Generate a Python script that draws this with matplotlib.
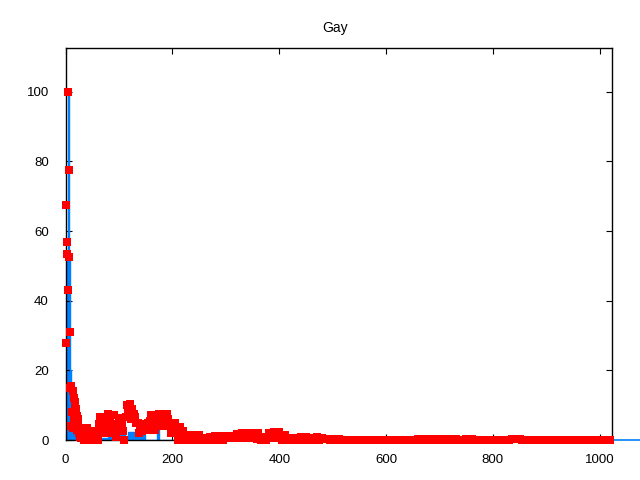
import matplotlib
matplotlib.use("Agg")
import matplotlib.pyplot as plt

plt.rcParams["font.family"] = ["Liberation Sans", "DejaVu Sans"]

title = "Gay"

# red points: first part at every unit, then every 5 units
red_x_head = list(range(0, 30))
red_y_head = [28, 67.5, 57, 53.5, 43, 100, 77.5, 52.5, 31, 15,
              4, 15.5, 8, 14, 3.5, 12, 6, 10, 11, 5,
              9, 7, 3, 6, 4, 2, 3, 1, 3.5, 0.5]

red_x_tail = list(range(30, 1025, 5))
red_y_tail = [
    3.0, 0.0, 3.4, 1.0, 0.0, 2.5, 0.0, 6.7, 2.0, 6.5,
    7.5, 2.0, 7.3, 1.0, 6.3, 5.0, 0.0, 10.0, 10.3, 8.9,
    6.5, 4.9, 3.4, 4.0, 4.6, 5.0, 7.1, 6.0, 5.4, 7.5,
    7.5, 6.0, 7.5, 4.9, 3.0, 4.9, 0.0, 3.6, 2.5, 0.0,
    1.4, 0.0, 1.3, 0.0, 1.4, 0.0, 0.6, 0.0, 0.8, 0.0,
    1.1, 0.0, 1.1, 0.0, 1.2, 0.5, 1.2, 0.5, 1.7, 0.5,
    2.0, 0.5, 2.0, 0.5, 2.0, 0.5, 2.0, 0.0, 0.8, 0.0,
    2.0, 0.5, 2.3, 0.5, 2.3, 0.0, 1.5, 0.0, 0.6, 0.0,
    0.6, 0.0, 0.9, 0.0, 0.9, 0.0, 0.6, 0.0, 0.9, 0.0,
    0.7, 0.2, 0.3, 0.0, 0.4, 0.0, 0.4, 0.0, 0.0, 0.0,
    0.0, 0.0, 0.1, 0.0, 0.0, 0.1, 0.0, 0.1, 0.0, 0.1,
    0.0, 0.1, 0.0, 0.0, 0.0, 0.0, 0.0, 0.0, 0.0, 0.0,
    0.0, 0.0, 0.0, 0.0, 0.0, 0.0, 0.3, 0.0, 0.3, 0.0,
    0.3, 0.0, 0.3, 0.0, 0.3, 0.0, 0.3, 0.0, 0.2, 0.0,
    0.3, 0.0, 0.0, 0.0, 0.3, 0.0, 0.3, 0.0, 0.0, 0.0,
    0.0, 0.0, 0.0, 0.0, 0.0, 0.0, 0.0, 0.0, 0.0, 0.0,
    0.0, 0.3, 0.3, 0.3, 0.3, 0.0, 0.0, 0.0, 0.0, 0.0,
    0.0, 0.0, 0.0, 0.0, 0.0, 0.0, 0.0, 0.0, 0.0, 0.0,
    0.0, 0.0, 0.0, 0.0, 0.0, 0.0, 0.0, 0.0, 0.0, 0.0,
    0.0, 0.0, 0.0, 0.0, 0.0, 0.0, 0.0, 0.0, 0.0,
]

# in-between points (x = 32.5, 37.5, ... 517.5)
red_x_mid = [32.5 + 5 * i for i in range(98)]
red_y_mid = [
    1.5, 2.0, 1.5, 2.2, 1.2, 1.5,
    4.5, 3.5, 4.5, 2.5,
    5.0, 3.5, 4.5, 3.0,
    4.0, 2.5, 6.5, 8.0, 6.0,
    7.5, 5.0, 2.0, 2.5, 3.0,
    3.0, 5.5, 4.5, 3.0, 4.0, 6.0,
    5.0, 4.0, 6.0, 2.0, 3.5, 2.0,
    2.0, 1.0, 1.2, 0.8, 0.6, 0.5, 0.8, 0.5,
    0.3, 0.2, 0.3, 0.4, 0.3, 0.4,
    0.5, 0.6, 0.5, 0.7, 0.6, 0.8,
    0.9, 1.0, 1.2, 1.0, 1.3, 1.0, 1.2, 1.0, 1.3, 0.4,
    0.3, 0.4, 0.3, 1.0,
    1.2, 1.0, 1.4, 1.2, 1.4, 0.8,
    0.7, 0.3, 0.3, 0.2, 0.3, 0.3,
    0.4, 0.5, 0.4, 0.3, 0.3, 0.4, 0.4, 0.3,
    0.4, 0.3, 0.2, 0.1, 0.2, 0.1, 0.2, 0.1,
]

# blue histogram (bin start, height)
blue_x = [0, 1, 2, 3, 4, 5, 6, 7, 8, 9, 10, 14, 18, 55, 80, 87, 90,
          102, 112, 117, 125, 128, 135, 148, 172, 174, 230]
blue_y = [52, 51, 52, 51, 51, 100, 51, 52, 51, 20, 5, 4, 0, 0.5, 1, 3, 1,
          2, 0, 2.3, 2.3, 1, 1.5, 0, 4.5, 0, 0]

red_x = red_x_head + red_x_tail + red_x_mid
red_y = red_y_head + red_y_tail + red_y_mid

blue_c = "#0080ff"
red_c = "#ff0000"

fig = plt.figure(figsize=(6.4, 4.8), dpi=100)
ax = fig.add_axes([0.1025, 0.0833, 0.8538, 0.8167])

ax.fill_between(blue_x, blue_y, step="post", color=blue_c, lw=0)
ax.step(blue_x, blue_y, where="post", color=blue_c, lw=1)
ax.axhline(0, xmin=1.0, xmax=1.06, color=blue_c, lw=1.2, clip_on=False)

ax.plot(red_x, red_y, "s", color=red_c, markersize=5.5, markeredgewidth=0,
        clip_on=False, zorder=3)

ax.set_xlim(0, 1023)
ax.set_ylim(0, 112.6)
ax.set_xticks(range(0, 1001, 200))
ax.set_yticks(range(0, 101, 20))
ax.tick_params(direction="in", length=4, width=0.8, top=True, right=True,
               labelsize=9.5, colors="black")
ax.tick_params(axis="x", pad=10)
ax.tick_params(axis="y", pad=12)
for s in ax.spines.values():
    s.set_linewidth(1)
    s.set_color("black")

fig.text(0.523, 1 - 28 / 480, title, ha="center", va="center", fontsize=10)

fig.savefig("out.png", dpi=100)
